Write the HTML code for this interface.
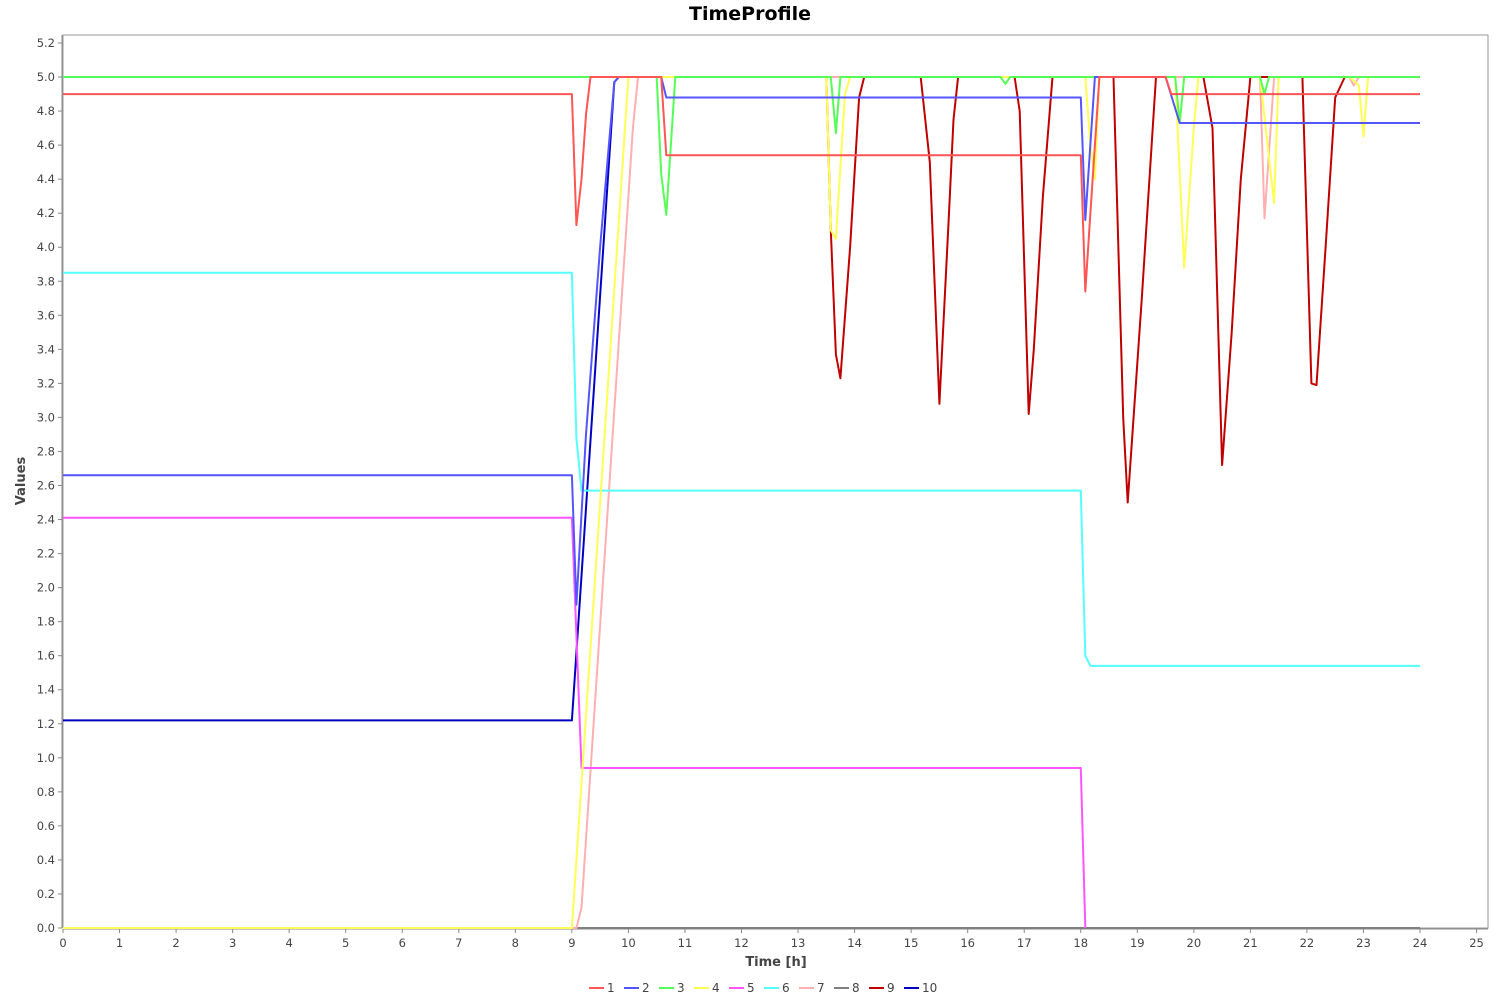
<!DOCTYPE html>
<html><head><meta charset="utf-8"><style>
body{margin:0;background:#fff;font-family:"DejaVu Sans","Liberation Sans",sans-serif;}
</style></head><body>
<svg id="chart" width="1500" height="1000" xmlns="http://www.w3.org/2000/svg" font-family="DejaVu Sans, Liberation Sans, sans-serif">
<rect width="1500" height="1000" fill="#fff"/>
<text x="750" y="20" text-anchor="middle" font-size="19" font-weight="bold" fill="#000">TimeProfile</text>
<rect x="63" y="35" width="1425" height="893" fill="#fff" stroke="#999"/>
<g id="yaxis"></g>
<g id="xaxis"></g>
<g id="series"></g>
<text x="776" y="966" text-anchor="middle" font-size="13" font-weight="bold" fill="#444">Time [h]</text>
<text transform="translate(25,481) rotate(-90)" text-anchor="middle" font-size="13" font-weight="bold" fill="#444">Values</text>
<g id="legend"></g>
</svg>
<script>
const seriesNames=["1","2","3","4","5","6","7","8","9","10"];
const seriesColors=["#ff5555","#5555ff","#55ff55","#ffff55","#ff55ff","#55ffff","#ffafaf","#808080","#c00000","#0000c0"];
const s1=[[0,4.9],[9,4.9],[9.08,4.13],[9.17,4.4],[9.25,4.78],[9.33,5],[10.58,5],[10.67,4.54],[18,4.54],[18.08,3.74],[18.17,4.2],[18.33,5],[19.5,5],[19.6,4.9],[24,4.9]];
const s2=[[0,2.66],[9,2.66],[9.08,1.9],[9.25,2.9],[9.5,4.0],[9.75,4.97],[9.83,5],[10.58,5],[10.67,4.88],[18,4.88],[18.08,4.16],[18.25,5],[19.5,5],[19.75,4.73],[24,4.73]];
const s3=[[0,5],[10.5,5],[10.58,4.43],[10.67,4.19],[10.83,5],[13.58,5],[13.67,4.67],[13.75,5],[16.58,5],[16.67,4.96],[16.75,5],[19.67,5],[19.75,4.73],[19.83,5],[21.17,5],[21.25,4.9],[21.33,5],[24,5]];
const s4=[[0,0],[9,0],[10,5],[13.5,5],[13.58,4.1],[13.67,4.05],[13.83,4.9],[13.92,5],[18.08,5],[18.17,4.6],[18.25,4.4],[18.33,5],[19.67,5],[19.83,3.88],[20,4.7],[20.08,5],[21.17,5],[21.42,4.26],[21.5,5],[22.75,5],[22.92,4.95],[23,4.65],[23.08,5],[24,5]];
const s5=[[0,2.41],[9,2.41],[9.17,0.94],[18,0.94],[18.08,0]];
const s6=[[0,3.85],[9,3.85],[9.08,2.88],[9.17,2.57],[18,2.57],[18.08,1.6],[18.17,1.54],[24,1.54]];
const s7=[[0,0],[9.08,0],[9.17,0.12],[10.08,4.7],[10.17,5],[21.17,5],[21.25,4.17],[21.42,5],[22.75,5],[22.83,4.95],[22.92,5],[24,5]];
const s8=[[0,0],[24,0]];
const s9=[[0,5],[13.5,5],[13.58,4.1],[13.67,3.37],[13.75,3.23],[13.92,4.0],[14.08,4.88],[14.17,5],[15.17,5],[15.33,4.5],[15.5,3.08],[15.67,4.2],[15.75,4.75],[15.83,5],[16.83,5],[16.92,4.8],[17.08,3.02],[17.17,3.4],[17.33,4.3],[17.5,5],[18.58,5],[18.75,3.0],[18.83,2.5],[19.08,3.7],[19.33,5],[20.17,5],[20.33,4.7],[20.5,2.72],[20.67,3.5],[20.83,4.4],[21,5],[21.92,5],[22.08,3.2],[22.17,3.19],[22.33,4.0],[22.5,4.88],[22.67,5],[24,5]];
const s10=[[0,1.22],[9,1.22],[9.75,4.97],[9.83,5],[24,5]];
const allSeries=[s1,s2,s3,s4,s5,s6,s7,s8,s9,s10];
const xTicks=[0,1,2,3,4,5,6,7,8,9,10,11,12,13,14,15,16,17,18,19,20,21,22,23,24,25];
const yTicks=[0,0.2,0.4,0.6,0.8,1.0,1.2,1.4,1.6,1.8,2.0,2.2,2.4,2.6,2.8,3.0,3.2,3.4,3.6,3.8,4.0,4.2,4.4,4.6,4.8,5.0,5.2];

const NS="http://www.w3.org/2000/svg";
const X=t=>63+t*(1357/24);
const Y=v=>928-v*(885/5.2);
function mk(tag,attrs,parent){const e=document.createElementNS(NS,tag);for(const k in attrs)e.setAttribute(k,attrs[k]);parent.appendChild(e);return e;}
const ya=document.getElementById('yaxis'),xa=document.getElementById('xaxis');
mk('line',{x1:62,y1:35,x2:62,y2:928,stroke:'#888'},ya);
yTicks.forEach(v=>{
  mk('line',{x1:58,y1:Y(v),x2:62,y2:Y(v),stroke:'#888'},ya);
  const t=mk('text',{x:55,y:Y(v)+4,'text-anchor':'end','font-size':11.5,fill:'#444'},ya);
  
  
  t.textContent=v.toFixed(1);
});
mk('line',{x1:63,y1:929,x2:1488,y2:929,stroke:'#888'},xa);
xTicks.forEach(v=>{
  mk('line',{x1:X(v),y1:929,x2:X(v),y2:933,stroke:'#888'},xa);
  const t=mk('text',{x:X(v),y:947,'text-anchor':'middle','font-size':11.5,fill:'#444'},xa);
  
  
  t.textContent=String(v);
});
const sg=document.getElementById('series');
for(let i=allSeries.length-1;i>=0;i--){
  const p=mk('polyline',{points:allSeries[i].map(d=>X(d[0]).toFixed(1)+','+Y(d[1]).toFixed(1)).join(' '),fill:'none',stroke:seriesColors[i],'stroke-width':2,'stroke-linejoin':'round'},sg);
  
  
}
const lg=document.getElementById('legend');
let lx=589;
seriesNames.forEach((n,i)=>{
  const g=mk('g',{},lg);
  
  
  mk('line',{x1:lx,y1:988,x2:lx+15,y2:988,stroke:seriesColors[i],'stroke-width':2},g);
  const t=mk('text',{x:lx+18,y:992,'font-size':12,fill:'#444'},g);
  t.textContent=n;
  lx+=18+(n.length*7)+10;
});
</script>
</body></html>
